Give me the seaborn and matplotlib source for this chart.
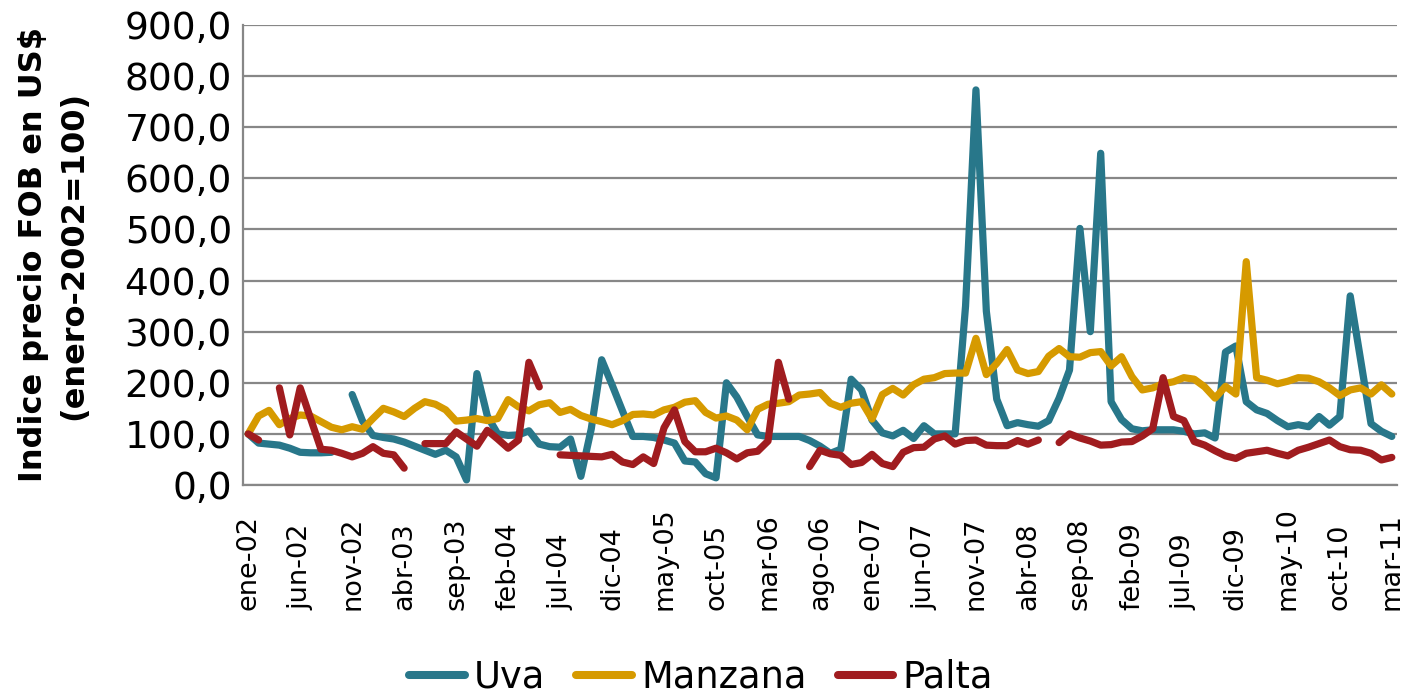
import numpy as np
import pandas as pd
import matplotlib
matplotlib.use("Agg")
import matplotlib.pyplot as plt
import seaborn as sns
from matplotlib.lines import Line2D

nan = np.nan

month_names = ["ene", "feb", "mar", "abr", "may", "jun",
               "jul", "ago", "sep", "oct", "nov", "dic"]
n_months = 111  # ene-02 .. mar-11
period_labels = [f"{month_names[i % 12]}-{(2 + i // 12):02d}" for i in range(n_months)]

uva = [100, 82, 80, 78, 72, 64, 63, 63, 64, nan,
       177, 125, 97, 93, 90, 84, 76, 68, 60, 68,
       55, 10, 218, 135, 100, 97, 98, 106, 80, 75,
       74, 90, 17, 110, 245, 196, 145, 95, 95, 93,
       88, 82, 47, 45, 22, 14, 200, 172, 134, 98,
       95, 95, 95, 95, 87, 76, 62, 70, 207, 186,
       127, 102, 96, 107, 91, 116, 100, 100, 100, 350,
       773, 340, 168, 116, 122, 118, 115, 126, 170, 225,
       502, 300, 649, 163, 128, 110, 106, 108, 108, 108,
       105, 100, 102, 92, 260, 272, 163, 147, 140, 126,
       114, 118, 114, 134, 117, 134, 370, 245, 120, 105,
       95]

manzana = [100, 135, 146, 118, 130, 137, 135, 124, 113, 108,
           114, 109, 130, 150, 143, 134, 150, 163, 158, 147,
           125, 127, 130, 126, 130, 167, 153, 145, 157, 161,
           142, 148, 136, 129, 124, 118, 126, 138, 139, 137,
           147, 152, 162, 165, 142, 131, 135, 127, 108, 148,
           158, 160, 163, 176, 178, 181, 160, 152, 160, 163,
           129, 177, 189, 176, 196, 207, 210, 218, 219, 219,
           287, 216, 238, 265, 225, 218, 222, 252, 267, 251,
           250, 259, 261, 233, 251, 212, 186, 190, 198, 202,
           210, 207, 192, 170, 193, 178, 437, 210, 205, 198,
           203, 210, 209, 202, 190, 175, 186, 190, 178, 196,
           178]

palta = [100, 88, nan, 190, 98, 190, 130, 70, 68, 62,
         55, 62, 75, 62, 59, 33, nan, 81, 81, 81,
         104, 90, 76, 107, 90, 72, 88, 240, 192, nan,
         59, 58, 57, 56, 55, 60, 45, 40, 55, 42,
         112, 147, 85, 65, 65, 72, 63, 51, 63, 66,
         86, 240, 168, nan, 36, 68, 61, 58, 40, 44,
         60, 42, 36, 64, 73, 74, 90, 96, 80, 87,
         88, 78, 77, 77, 87, 80, 88, nan, 83, 100,
         92, 86, 78, 79, 84, 85, 96, 110, 210, 134,
         126, 85, 78, 67, 57, 52, 62, 65, 68, 62,
         57, 68, 74, 81, 88, 75, 69, 68, 62, 49,
         54]

series_names = ["Uva", "Manzana", "Palta"]
series_values = [uva, manzana, palta]
colors = {"Uva": "#28778A", "Manzana": "#D69A00", "Palta": "#A01C1F"}

y_ticks = list(range(0, 901, 100))
y_tick_labels = [f"{v},0" for v in y_ticks]
x_tick_step = 5

# long table, split into contiguous segments so gaps stay gaps
rows = []
for name, vals in zip(series_names, series_values):
    seg = 0
    prev_nan = True
    for i, v in enumerate(vals):
        if np.isnan(v):
            prev_nan = True
            continue
        if prev_nan:
            seg += 1
            prev_nan = False
        rows.append({"mes": i, "indice": v, "serie": name, "seg": f"{name}_{seg}"})
df = pd.DataFrame(rows)

sns.set_theme(style="white")
plt.rcParams["font.family"] = ["DejaVu Sans"]
plt.rcParams["text.color"] = "black"

fig = plt.figure(figsize=(14.02, 6.95), dpi=100)
ax = fig.add_axes([243 / 1402, 1 - 485 / 695, (1397 - 243) / 1402, (485 - 25) / 695])

sns.lineplot(data=df, x="mes", y="indice", hue="serie", units="seg",
             estimator=None, sort=False, hue_order=series_names,
             palette=colors, linewidth=5.2, ax=ax, legend=False)
for ln in ax.get_lines():
    ln.set_solid_capstyle("round")
    ln.set_solid_joinstyle("round")

ax.set_xlim(-0.5, n_months - 0.5)
ax.set_ylim(0, 900)
ax.set_yticks(y_ticks)
ax.set_yticklabels(y_tick_labels, fontsize=27)
xt = list(range(0, n_months, x_tick_step))
ax.set_xticks(xt)
ax.set_xticklabels([period_labels[i] for i in xt], rotation=90, fontsize=19.5,
                   va="bottom")
ax.grid(axis="y", color="#878787", linewidth=1.6)
ax.set_axisbelow(True)
for s in ["top", "right"]:
    ax.spines[s].set_visible(False)
for s in ["left", "bottom"]:
    ax.spines[s].set_color("#878787")
    ax.spines[s].set_linewidth(1.6)
ax.tick_params(axis="y", length=0, pad=8, colors="black")
ax.tick_params(axis="x", length=0, pad=90, colors="black")
ax.set_xlabel("")
ax.set_ylabel("Indice precio FOB en US$\n(enero-2002=100)", fontsize=23,
              fontweight="bold", labelpad=25, linespacing=1.4, color="black")

handles = [Line2D([0], [0], color=colors[n], linewidth=5.8, solid_capstyle="round") for n in series_names]
leg = fig.legend(handles, series_names, loc="center", bbox_to_anchor=(0.5, 1 - 677 / 695),
                 ncol=3, frameon=False, fontsize=26.5, handlelength=1.5, columnspacing=0.85,
                 handletextpad=0.25, borderpad=0, borderaxespad=0)
for t in leg.get_texts():
    t.set_color("black")

fig.savefig("out.png", dpi=100)
